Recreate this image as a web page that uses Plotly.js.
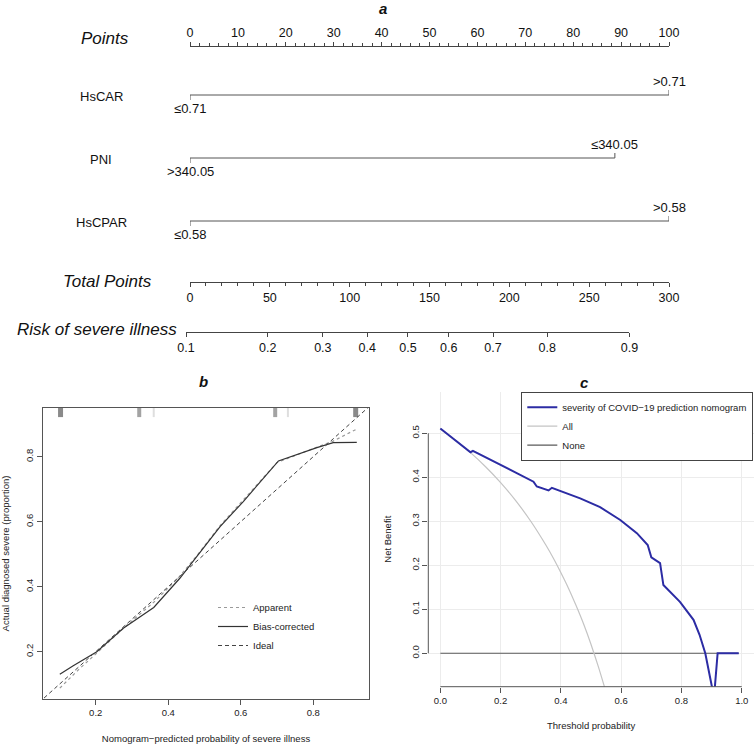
<!DOCTYPE html>
<html>
<head>
<meta charset="utf-8">
<script src="https://cdn.plot.ly/plotly-3.0.1.min.js"></script>
<style>html,body{margin:0;padding:0;background:#fff}#chart{width:756px;height:745px}</style>
</head>
<body>
<div id="chart"></div>
<script>
// ================= DATA =================
// Panel a: nomogram
const pointsTicks = [0, 10, 20, 30, 40, 50, 60, 70, 80, 90, 100];
const nomoVars = ['HsCAR', 'PNI', 'HsCPAR'];
const lowLevels = ['≤0.71', '>340.05', '≤0.58'];
const highLevels = ['>0.71', '≤340.05', '>0.58'];
const lowPoints = [0, 0, 0];
const highPoints = [100, 88.7, 100];
const totalPointsTicks = [0, 50, 100, 150, 200, 250, 300];
const riskLabels = ['0.1', '0.2', '0.3', '0.4', '0.5', '0.6', '0.7', '0.8', '0.9'];
const riskTotalPoints = [-2.5, 48.7, 83.2, 111.0, 136.5, 162.0, 189.8, 223.7, 275.2];

// Panel b: calibration curve
const rugPred = [0.103, 0.32, 0.36, 0.695, 0.73, 0.917];
const apparentX = [0.101, 0.15, 0.2, 0.276, 0.36, 0.43, 0.48, 0.543, 0.607, 0.70, 0.80, 0.855, 0.918];
const apparentY = [0.088, 0.142, 0.193, 0.272, 0.352, 0.43, 0.497, 0.588, 0.667, 0.782, 0.825, 0.848, 0.884];
const biasX = [0.101, 0.138, 0.203, 0.276, 0.36, 0.432, 0.478, 0.543, 0.607, 0.704, 0.81, 0.855, 0.92];
const biasY = [0.131, 0.157, 0.2, 0.272, 0.336, 0.426, 0.492, 0.585, 0.662, 0.787, 0.828, 0.843, 0.844];
const idealX = [0, 1];
const idealY = [0, 1];

// Panel c: decision curve
const thrModel = [0, 0.10, 0.108, 0.20, 0.265, 0.309, 0.32, 0.359, 0.37, 0.42, 0.464, 0.53, 0.597, 0.652, 0.688, 0.70, 0.729, 0.74, 0.795, 0.84, 0.86, 0.879, 0.908, 0.92, 0.99];
const nbModel  = [0.511, 0.457, 0.46, 0.428, 0.407, 0.39, 0.379, 0.37, 0.376, 0.364, 0.352, 0.332, 0.303, 0.273, 0.246, 0.218, 0.205, 0.155, 0.117, 0.076, 0.042, 0.0, -0.1, 0.0, 0.0];
const thrAll = [0, 0.05, 0.1, 0.15, 0.2, 0.25, 0.3, 0.35, 0.375, 0.4, 0.425, 0.45, 0.475, 0.5, 0.525, 0.55];
const nbAll  = [0.51, 0.484, 0.456, 0.424, 0.388, 0.347, 0.30, 0.246, 0.216, 0.183, 0.148, 0.109, 0.067, 0.02, -0.032, -0.089];
const thrNone = [0, 0.99];
const nbNone  = [0, 0];

// ================= LAYOUT HELPERS =================
const W = 756, H = 745;
const fx = v => v / W;
const fy = v => 1 - v / H;
const FONT = 'Liberation Sans, Arial, Helvetica, sans-serif';

// nomogram geometry
const nomoL = 190, nomoR = 669;
const ptsPerPx = (nomoR - nomoL) / 300; // px per total point
const rowTopPx = 60, rowBotPx = 250, firstRowPx = 95, rowGapPx = 63, tickPx = 5;
const rowRange = [1 + (rowBotPx - firstRowPx) / rowGapPx, 1 - (firstRowPx - rowTopPx) / rowGapPx];
const tk = tickPx / rowGapPx;

const traces = [];
const annotations = [];

nomoVars.forEach((name, i) => {
  const row = i + 1;
  traces.push({
    x: [lowPoints[i], lowPoints[i], highPoints[i], highPoints[i]],
    y: [row + tk, row, row, row - tk],
    xaxis: 'x', yaxis: 'y', mode: 'lines',
    line: {color: '#555', width: 1}, showlegend: false, hoverinfo: 'skip'
  });
  annotations.push({x: highPoints[i], y: row, xref: 'x', yref: 'y', text: highLevels[i],
    yanchor: 'bottom', yshift: 4, showarrow: false, font: {size: 13, color: '#111', family: FONT}});
  annotations.push({x: lowPoints[i], y: row, xref: 'x', yref: 'y', text: lowLevels[i],
    yanchor: 'top', yshift: -4, showarrow: false, font: {size: 13, color: '#111', family: FONT}});
  annotations.push({x: fx(101), y: row, xref: 'paper', yref: 'y', text: name,
    xanchor: 'center', yanchor: 'middle', yshift: -1, showarrow: false, font: {size: 13, color: '#111', family: FONT}});
});
// carriers for the free total-points and risk axes
traces.push({x: totalPointsTicks, y: totalPointsTicks.map(() => 2), xaxis: 'x2', yaxis: 'y', mode: 'none', showlegend: false, hoverinfo: 'skip'});
traces.push({x: riskTotalPoints, y: riskTotalPoints.map(() => 2), xaxis: 'x3', yaxis: 'y', mode: 'none', showlegend: false, hoverinfo: 'skip'});

// Panel b
const bX = [0.0546, 0.9537], bY = [0.0545, 0.9498];
traces.push({x: rugPred, y: rugPred.map(() => bY[1]), xaxis: 'x4', yaxis: 'y4', mode: 'markers',
  cliponaxis: true, showlegend: false, hoverinfo: 'skip',
  marker: {symbol: 'line-ns-open', size: 13,
    color: ['#8a8a8a', '#a3a3a3', '#dedede', '#a3a3a3', '#dedede', '#8a8a8a'],
    line: {width: [5, 4, 2, 4, 2, 5], color: ['#8a8a8a', '#a3a3a3', '#dedede', '#a3a3a3', '#dedede', '#8a8a8a']}}});
traces.push({x: apparentX, y: apparentY, xaxis: 'x4', yaxis: 'y4', mode: 'lines', name: 'Apparent',
  legend: 'legend', line: {color: '#9a9a9a', width: 1.2, dash: 'dot'}, hoverinfo: 'skip'});
traces.push({x: biasX, y: biasY, xaxis: 'x4', yaxis: 'y4', mode: 'lines', name: 'Bias-corrected',
  legend: 'legend', line: {color: '#333', width: 1.2}, hoverinfo: 'skip'});
traces.push({x: idealX, y: idealY, xaxis: 'x4', yaxis: 'y4', mode: 'lines', name: 'Ideal',
  legend: 'legend', line: {color: '#444', width: 1, dash: '4px,3px'}, hoverinfo: 'skip'});

// Panel c
const cX = [-0.04, 1.04], cY = [-0.076, 0.5945];
traces.push({x: thrNone, y: nbNone, xaxis: 'x5', yaxis: 'y5', mode: 'lines', name: 'None',
  legend: 'legend2', legendrank: 3, line: {color: '#5a5a5a', width: 1.2}, hoverinfo: 'skip'});
traces.push({x: thrAll, y: nbAll, xaxis: 'x5', yaxis: 'y5', mode: 'lines', name: 'All',
  legend: 'legend2', legendrank: 2, line: {color: '#c4c4c4', width: 1.2, shape: 'spline', smoothing: 0.6}, hoverinfo: 'skip'});
traces.push({x: thrModel, y: nbModel, xaxis: 'x5', yaxis: 'y5', mode: 'lines', name: 'severity of COVID\u221219 prediction nomogram',
  legend: 'legend2', legendrank: 1, line: {color: '#2c2ca4', width: 2}, hoverinfo: 'skip'});

// text annotations (titles, row labels)
const bi = (t) => '<b><i>' + t + '</i></b>';
[['a', 383, 8], ['b', 203, 381], ['c', 584, 382]].forEach(([t, x, y]) => {
  annotations.push({text: bi(t), x: fx(x), y: fy(y), xref: 'paper', yref: 'paper', showarrow: false,
    xanchor: 'center', yanchor: 'middle', font: {size: 15, color: '#111', family: FONT}});
});
[['Points', 104.7, 39], ['Total Points', 107.1, 281.5], ['Risk of severe illness', 96.6, 329]].forEach(([t, x, y]) => {
  annotations.push({text: '<i>' + t + '</i>', x: fx(x), y: fy(y), xref: 'paper', yref: 'paper', showarrow: false,
    xanchor: 'center', yanchor: 'middle', font: {size: 17, color: '#111', family: FONT}});
});

const nomoAxis = {
  showline: true, linecolor: '#444', linewidth: 1, ticks: 'outside', ticklen: 4, tickcolor: '#444',
  showgrid: false, zeroline: false, automargin: false, fixedrange: true,
  tickfont: {size: 12.5, color: '#111', family: FONT}, anchor: 'free'
};
const smallFont = {size: 9.5, color: '#222', family: FONT};

const layout = {
  width: W, height: H, margin: {l: 0, r: 0, t: 0, b: 0},
  paper_bgcolor: '#fff', plot_bgcolor: 'rgba(0,0,0,0)',
  font: {family: FONT, color: '#222'},
  xaxis: Object.assign({}, nomoAxis, {domain: [fx(nomoL), fx(nomoR)], range: [0, 100], position: fy(46), side: 'top',
    tickmode: 'array', tickvals: pointsTicks,
    minor: {tickmode: 'linear', tick0: 0, dtick: 2, ticks: 'outside', ticklen: 3, tickcolor: '#444', showgrid: false}}),
  xaxis2: Object.assign({}, nomoAxis, {domain: [fx(nomoL), fx(nomoR)], range: [0, 300], position: fy(282), side: 'bottom',
    tickmode: 'array', tickvals: totalPointsTicks,
    minor: {tickmode: 'linear', tick0: 0, dtick: 10, ticks: 'outside', ticklen: 3, tickcolor: '#444', showgrid: false}}),
  xaxis3: Object.assign({}, nomoAxis, {
    domain: [fx(nomoL + riskTotalPoints[0] * ptsPerPx), fx(nomoL + riskTotalPoints[riskTotalPoints.length - 1] * ptsPerPx)],
    range: [riskTotalPoints[0], riskTotalPoints[riskTotalPoints.length - 1]], position: fy(331.7), side: 'bottom',
    tickmode: 'array', tickvals: riskTotalPoints, ticktext: riskLabels}),
  yaxis: {domain: [fy(rowBotPx), fy(rowTopPx)], range: rowRange, visible: false, anchor: 'x', fixedrange: true},

  xaxis4: {domain: [fx(43), fx(369)], range: bX, anchor: 'y4', showline: true, mirror: true, linecolor: '#555', linewidth: 1,
    ticks: 'outside', ticklen: 5, tickcolor: '#555', tick0: 0, dtick: 0.2, showgrid: false, zeroline: false, automargin: false,
    tickfont: smallFont, title: {text: 'Nomogram\u2212predicted probability of severe illness', font: smallFont, standoff: 17}},
  yaxis4: {domain: [fy(699), fy(408)], range: bY, anchor: 'x4', showline: true, mirror: true, linecolor: '#555', linewidth: 1,
    ticks: 'outside', ticklen: 5, tickcolor: '#555', tick0: 0, dtick: 0.2, tickangle: -90, showgrid: false, zeroline: false,
    automargin: false, tickfont: smallFont, title: {text: 'Actual diagnosed severe (proportion)', font: smallFont, standoff: 12}},

  xaxis5: {domain: [fx(428.3), fx(753.8)], range: cX, anchor: 'y5', showline: false, ticks: 'outside', ticklen: 5,
    tickcolor: '#555', tick0: 0, dtick: 0.2, tickformat: '.1f', showgrid: true, gridcolor: '#ececec', gridwidth: 1,
    zeroline: false, automargin: false, tickfont: smallFont, title: {text: 'Threshold probability', font: smallFont, standoff: 17}},
  yaxis5: {domain: [fy(686.7), fy(391.7)], range: cY, anchor: 'x5', showline: false, ticks: 'outside', ticklen: 5,
    tickcolor: '#555', tick0: 0, dtick: 0.1, tickformat: '.1f', tickangle: -90, showgrid: true, gridcolor: '#ececec', gridwidth: 1,
    zeroline: false, automargin: false, tickfont: smallFont, title: {text: 'Net Benefit', font: smallFont, standoff: 16}},

  shapes: [
    {type: 'line', xref: 'x5', yref: 'y5 domain', x0: 0, x1: 1, y0: 0, y1: 0, line: {color: '#555', width: 1}},
    {type: 'line', xref: 'x5 domain', yref: 'y5', x0: 0, x1: 0, y0: 0, y1: 0.5, line: {color: '#555', width: 1}}
  ],

  legend: {x: fx(213), y: fy(593), xanchor: 'left', yanchor: 'top', bgcolor: 'rgba(0,0,0,0)', borderwidth: 0,
    font: {size: 9.5, color: '#222', family: FONT}, traceorder: 'normal'},
  legend2: {x: fx(753.3), y: fy(391.7), xanchor: 'right', yanchor: 'top', bgcolor: '#fff', bordercolor: '#444', borderwidth: 1,
    font: {size: 9.5, color: '#222', family: FONT}, traceorder: 'normal'},
  annotations: annotations,
  showlegend: true
};

Plotly.newPlot('chart', traces, layout, {staticPlot: true, displayModeBar: false});
</script>
</body>
</html>
